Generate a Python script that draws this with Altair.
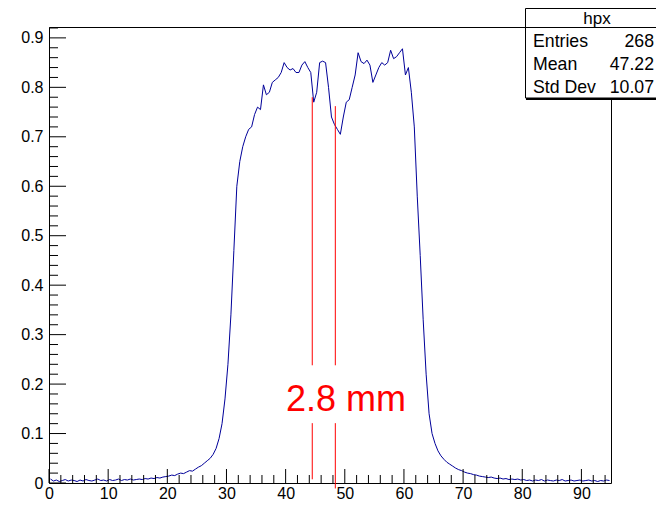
import altair as alt
import pandas as pd

FONT = "Liberation Sans"

# ---- histogram (bin width 0.5, range 0..95) ----
bin_width = 0.5
counts = [
    # 0 - 14.5
    0.008, 0.004, 0.006, 0.003, 0.005, 0.007, 0.004, 0.006, 0.005, 0.003,
    0.006, 0.004, 0.007, 0.005, 0.004, 0.006, 0.008, 0.005, 0.006, 0.004,
    0.007, 0.005, 0.006, 0.008, 0.005, 0.007, 0.006, 0.008, 0.006, 0.007,
    # 15 - 19.5
    0.008, 0.007, 0.009, 0.008, 0.010, 0.009, 0.011, 0.010, 0.012, 0.013,
    # 20 - 24.5
    0.014, 0.016, 0.015, 0.018, 0.020, 0.019, 0.022, 0.025, 0.024, 0.028,
    # 25 - 27.5
    0.032, 0.035, 0.040, 0.045, 0.050, 0.058,
    # 28 - 28.5
    0.070, 0.090,
    # 29 - 69.5
    0.12, 0.17, 0.24, 0.34, 0.47, 0.60, 0.65, 0.68, 0.70, 0.715,
    0.72, 0.745, 0.76, 0.755, 0.805, 0.785, 0.79, 0.81, 0.815, 0.82,
    0.83, 0.85, 0.84, 0.835, 0.838, 0.83, 0.83, 0.845, 0.852, 0.84,
    0.83, 0.77, 0.79, 0.85, 0.853, 0.85, 0.80, 0.74, 0.725, 0.715,
    0.705, 0.74, 0.77, 0.775, 0.80, 0.825, 0.87, 0.852, 0.848, 0.855,
    0.845, 0.81, 0.825, 0.84, 0.85, 0.845, 0.85, 0.875, 0.858, 0.862,
    0.87, 0.878, 0.825, 0.84, 0.79, 0.72, 0.58, 0.46, 0.33, 0.22,
    0.14, 0.10, 0.08, 0.065, 0.055, 0.048, 0.042, 0.038, 0.034, 0.030,
    0.027, 0.025,
    # 70 - 74.5
    0.022, 0.020, 0.019, 0.017, 0.016, 0.014, 0.013, 0.012, 0.011, 0.012,
    # 75 - 79.5
    0.010, 0.009, 0.010, 0.008, 0.009, 0.007, 0.008, 0.007, 0.008, 0.006,
    # 80 - 94.5
    0.007, 0.005, 0.006, 0.004, 0.006, 0.005, 0.007, 0.004, 0.006, 0.005,
    0.004, 0.006, 0.005, 0.007, 0.004, 0.005, 0.006, 0.004, 0.005, 0.006,
    0.004, 0.005, 0.006, 0.004, 0.005, 0.003, 0.005, 0.004, 0.006, 0.005,
]

# axis labels and ticks
x_labels = [0, 10, 20, 30, 40, 50, 60, 70, 80, 90]
x_minor = [v for v in range(0, 95, 2) if v % 10 != 0]
y_labels = [0, 0.1, 0.2, 0.3, 0.4, 0.5, 0.6, 0.7, 0.8, 0.9]
y_minor = [round(i * 0.02, 2) for i in range(0, 47) if i % 5 != 0]

# red marker lines
red_x = [44.5, 48.4]
red_top = [0.78, 0.762]
red_gap_top = [0.238, 0.238]
red_gap_bottom = [0.121, 0.121]
red_bottom = [0.0075, -0.011]
annotation = "2.8 mm"

# stats box
stats_title = "hpx"
stat_names = ["Entries", "Mean", "Std Dev"]
stat_values = ["268", "47.22", "10.07"]

# ---- build ----
centers = [(i + 0.5) * bin_width for i in range(len(counts))]
hist_df = pd.DataFrame({"c": centers, "val": counts})

xs = alt.Scale(domain=[0, 95], nice=False, zero=False)
ys = alt.Scale(domain=[0, 0.922], nice=False, zero=False)

xax = alt.Axis(values=x_labels, title=None, ticks=False, domain=False, grid=False,
               labelFontSize=16, labelFont=FONT, labelColor="black", labelPadding=2,
               format="d", labelFlush=False, labelOverlap=False)
yax = alt.Axis(values=y_labels, title=None, ticks=False, domain=False, grid=False,
               labelFontSize=16, labelFont=FONT, labelColor="black", labelPadding=6,
               format=".1~f", labelFlush=False, labelOverlap=False)

H = 456

hist = alt.Chart(hist_df).mark_line(interpolate="linear", color="#000099",
                                    strokeWidth=1).encode(
    x=alt.X("c:Q", scale=xs, axis=xax),
    y=alt.Y("val:Q", scale=ys, axis=yax),
)

ytick_major = alt.Chart(pd.DataFrame({"v": y_labels})).mark_rule(color="black").encode(
    y=alt.Y("v:Q", scale=ys, axis=yax), x=alt.value(0), x2=alt.value(17))
ytick_minor = alt.Chart(pd.DataFrame({"v": y_minor})).mark_rule(color="black").encode(
    y=alt.Y("v:Q", scale=ys, axis=yax), x=alt.value(0), x2=alt.value(9))
xtick_major = alt.Chart(pd.DataFrame({"v": x_labels})).mark_rule(color="black").encode(
    x=alt.X("v:Q", scale=xs, axis=xax), y=alt.value(H), y2=alt.value(H - 14))
xtick_minor = alt.Chart(pd.DataFrame({"v": x_minor})).mark_rule(color="black").encode(
    x=alt.X("v:Q", scale=xs, axis=xax), y=alt.value(H), y2=alt.value(H - 8))

red_df = pd.DataFrame({"x": red_x, "top": red_top, "gt": red_gap_top,
                       "gb": red_gap_bottom, "bot": red_bottom})
red_upper = alt.Chart(red_df).mark_rule(color="#ff0000", strokeWidth=1).encode(
    x=alt.X("x:Q", scale=xs, axis=xax), y=alt.Y("top:Q", scale=ys, axis=yax), y2="gt:Q")
red_lower = alt.Chart(red_df).mark_rule(color="#ff0000", strokeWidth=1).encode(
    x=alt.X("x:Q", scale=xs, axis=xax), y=alt.Y("gb:Q", scale=ys, axis=yax), y2="bot:Q")

one = pd.DataFrame({"t": [annotation]})
red_text = alt.Chart(one).mark_text(color="#ff0000", fontSize=36, font=FONT,
                                    align="center", baseline="alphabetic").encode(
    text="t:N", x=alt.value(297), y=alt.value(384))

box_df = pd.DataFrame({"t": [stats_title]})
box = alt.Chart(box_df).mark_rect(fill="white", stroke="black", strokeWidth=1).encode(
    x=alt.value(476.5), x2=alt.value(640), y=alt.value(-18.5), y2=alt.value(71))
box_shadow = alt.Chart(box_df).mark_rule(color="black", strokeWidth=2).encode(
    x=alt.value(477), x2=alt.value(640), y=alt.value(72), y2=alt.value(72))
box_div = alt.Chart(box_df).mark_rule(color="black", strokeWidth=1).encode(
    x=alt.value(476.5), x2=alt.value(640), y=alt.value(0.5), y2=alt.value(0.5))
box_title = alt.Chart(box_df).mark_text(fontSize=17, font=FONT, color="black",
                                        align="center", baseline="middle").encode(
    text="t:N", x=alt.value(548), y=alt.value(-8.5))

stat_layers = []
row_y = [15, 38, 61]
for name, val, yy in zip(stat_names, stat_values, row_y):
    d = pd.DataFrame({"n": [name], "v": [val]})
    stat_layers.append(alt.Chart(d).mark_text(fontSize=17.7, font=FONT, color="black",
                                              align="left", baseline="middle").encode(
        text="n:N", x=alt.value(484), y=alt.value(yy)))
    stat_layers.append(alt.Chart(d).mark_text(fontSize=17.7, font=FONT, color="black",
                                              align="right", baseline="middle").encode(
        text="v:N", x=alt.value(605), y=alt.value(yy)))

chart = alt.layer(
    hist, ytick_major, ytick_minor, xtick_major, xtick_minor,
    red_upper, red_lower, red_text,
    box, box_shadow, box_div, box_title, *stat_layers,
).properties(
    width=562, height=H,
    autosize="none",
    padding={"left": 41, "top": 19, "right": 45, "bottom": 19},
    background="white",
).configure_view(stroke="black", strokeWidth=1)

chart.save("out.html", embed_options={"renderer": "svg", "actions": False})
